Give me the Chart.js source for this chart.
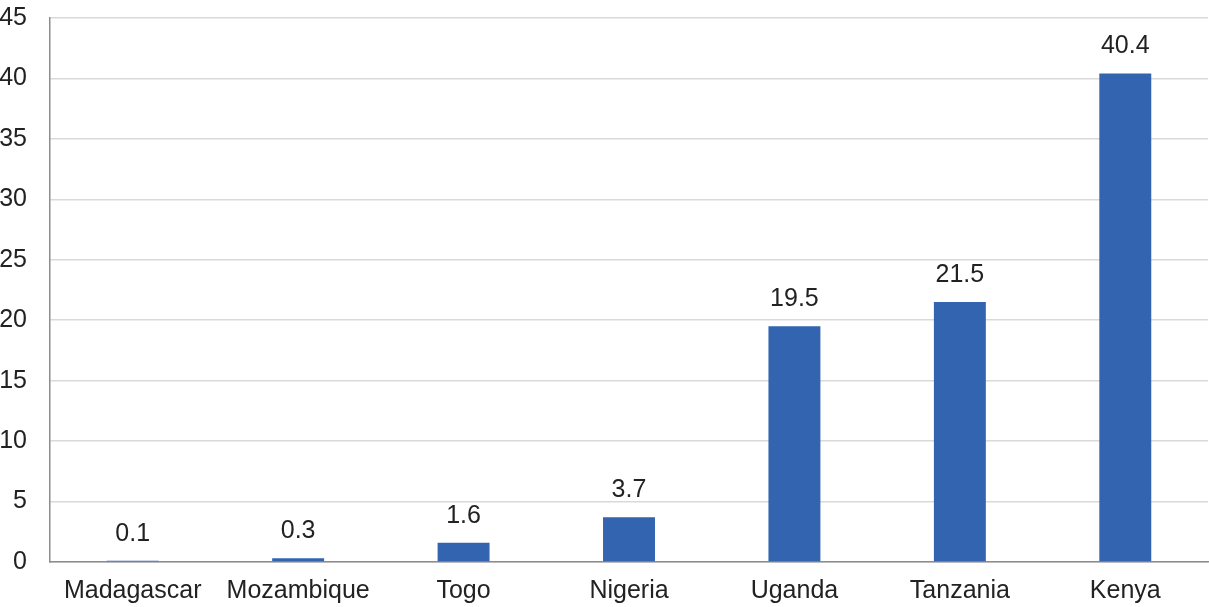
<!DOCTYPE html>
<html><head><meta charset="utf-8">
<script src="https://cdn.jsdelivr.net/npm/chart.js@4"></script>
<style>html,body{margin:0;padding:0;background:#fff}#w{width:1209px;height:607px}</style>
</head><body><div id="w"><canvas id="c"></canvas></div>
<script>
const categories = ["Madagascar","Mozambique","Togo","Nigeria","Uganda","Tanzania","Kenya"];
const values = [0.1,0.3,1.6,3.7,19.5,21.5,40.4];
const yMax = 45, yStep = 5;
const FONT = "'Liberation Sans', Arial, Helvetica, sans-serif";

const labelPlugin = {
  id: 'labels',
  afterDatasetsDraw(chart){
    const ctx = chart.ctx;
    const meta = chart.getDatasetMeta(0);
    ctx.save();
    ctx.font = "25px " + FONT;
    ctx.fillStyle = "#222";
    ctx.textAlign = "center";
    ctx.textBaseline = "middle";
    meta.data.forEach((bar,i)=>{
      ctx.fillText(values[i].toFixed(1), bar.x, bar.y - 27);
    });
    ctx.restore();
  }
};

new Chart(document.getElementById('c'), {
  type:'bar',
  data:{labels:categories, datasets:[{data:values, backgroundColor:'#3264b0', barPercentage:0.314, categoryPercentage:1}]},
  options:{
    responsive:true, maintainAspectRatio:false, animation:false,
    layout:{padding:{top:18,right:1,left:0,bottom:0}, autoPadding:false},
    plugins:{legend:{display:false}, tooltip:{enabled:false}},
    scales:{
      x:{
        grid:{display:false, drawTicks:false},
        border:{display:true,color:'#8c8c8c',width:1.5},
        ticks:{color:'#222', font:{family:FONT,size:25}, padding:14, maxRotation:0, autoSkip:false},
        afterFit(s){s.height=45;s.paddingLeft=0;s.paddingRight=0;}
      },
      y:{
        min:0,max:yMax,
        grid:{color:'#d9d9d9',lineWidth:1.5,drawTicks:false},
        border:{display:true,color:'#8c8c8c',width:1.5},
        ticks:{stepSize:yStep,color:'#222',font:{family:FONT,size:25},padding:23},
        afterFit(s){s.width=50;s.paddingTop=0;s.paddingBottom=0;}
      }
    }
  },
  plugins:[labelPlugin]
});
</script></body></html>
